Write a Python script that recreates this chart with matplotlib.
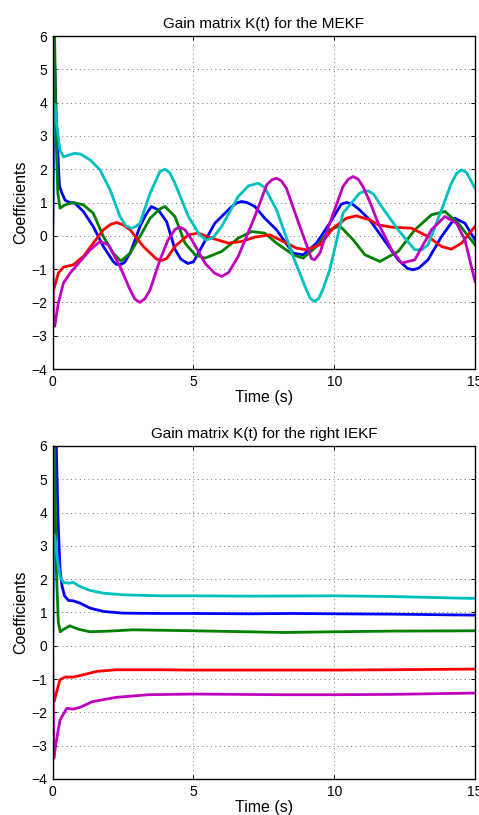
import matplotlib
matplotlib.use('Agg')
import matplotlib.pyplot as plt

plt.rcParams['font.family'] = ['Liberation Sans', 'DejaVu Sans']

# --- MEKF gains (top panel) ---
t_blue_mekf = [0, 0.07, 0.14, 0.24, 0.32, 0.44, 0.6, 0.79, 1.09, 1.44, 1.8, 2.15, 2.25, 2.39, 2.55,
               2.75, 3.1, 3.3, 3.5, 3.75, 4.05, 4.34, 4.55, 4.8, 5.0, 5.17, 5.76, 6.36, 6.55, 6.71,
               6.9, 7.18, 7.53, 7.95, 8.54, 8.9, 9.37, 9.84, 10.25, 10.43, 10.65, 10.9, 11.26,
               11.68, 12.27, 12.6, 12.8, 13.0, 13.33, 13.81, 14.28, 14.64, 15.0]
k_blue_mekf = [0, 5.16, 3.2, 1.5, 1.3, 1.07, 1.0, 0.98, 0.73, 0.28, -0.32, -0.77, -0.85, -0.87, -0.8,
               -0.52, 0.28, 0.62, 0.88, 0.78, 0.42, -0.4, -0.7, -0.83, -0.78, -0.52, 0.38, 0.88, 0.99, 1.03,
               1.0, 0.88, 0.53, 0.18, -0.52, -0.57, -0.22, 0.38, 0.95, 1.0, 0.95, 0.78, 0.48,
               -0.02, -0.72, -0.98, -1.02, -0.97, -0.72, -0.02, 0.53, 0.38, -0.12]

t_green_mekf = [0, 0.06, 0.12, 0.18, 0.26, 0.44, 0.73, 1.09, 1.44, 1.8, 2.15, 2.42, 2.75, 3.1,
                3.46, 3.81, 3.99, 4.34, 4.7, 5.06, 5.41, 6.0, 6.59, 7.07, 7.53, 7.95, 8.54, 8.9,
                9.37, 9.84, 10.2, 10.67, 11.09, 11.62, 12.27, 12.86, 13.45, 13.93, 14.4, 15.0]
k_green_mekf = [8, 6.5, 3.0, 1.3, 0.83, 0.93, 1.0, 0.93, 0.68, -0.02, -0.52, -0.76, -0.52, -0.02,
                0.53, 0.81, 0.88, 0.58, -0.22, -0.57, -0.67, -0.47, -0.07, 0.13, 0.08, -0.22, -0.57, -0.67,
                -0.32, 0.18, 0.3, -0.12, -0.57, -0.77, -0.47, 0.18, 0.63, 0.73, 0.38, -0.27]

t_red_mekf = [0, 0.2, 0.38, 0.73, 1.09, 1.44, 1.8, 2.05, 2.27, 2.5, 2.75, 3.22, 3.69, 3.87, 4.05,
              4.34, 4.82, 5.17, 5.65, 6.24, 6.71, 7.18, 7.71, 8.19, 8.66, 9.02, 9.49, 9.96, 10.43,
              10.78, 11.26, 11.56, 12.04, 12.74, 13.33, 13.81, 14.16, 14.52, 15.0]
k_red_mekf = [-1.72, -1.12, -0.94, -0.87, -0.62, -0.22, 0.18, 0.34, 0.4, 0.33, 0.18, -0.32, -0.7, -0.74, -0.68,
              -0.32, 0.03, 0.08, -0.07, -0.22, -0.17, -0.04, 0.03, -0.17, -0.37, -0.42, -0.27, 0.23, 0.53,
              0.6, 0.48, 0.33, 0.26, 0.23, -0.02, -0.32, -0.4, -0.22, 0.28]

t_cyan_mekf = [0, 0.03, 0.08, 0.15, 0.25, 0.38, 0.55, 0.79, 1.0, 1.33, 1.68, 2.04, 2.39, 2.6, 2.8,
               2.95, 3.1, 3.46, 3.81, 3.99, 4.15, 4.34, 4.82, 5.2, 5.45, 5.7, 6.0, 6.59, 6.95, 7.3,
               7.53, 7.95, 8.54, 9.0, 9.15, 9.31, 9.45, 9.6, 9.84, 10.31, 10.9, 11.05, 11.2, 11.4,
               11.68, 12.27, 12.86, 13.1, 13.33, 13.81, 14.16, 14.35, 14.52, 14.7, 15.0]
k_cyan_mekf = [0, 3.9, 3.95, 3.3, 2.6, 2.37, 2.42, 2.48, 2.45, 2.28, 1.98, 1.38, 0.58, 0.3, 0.23,
               0.28, 0.38, 1.28, 1.93, 2.0, 1.9, 1.58, 0.58, 0.05, -0.13, -0.05, 0.28, 1.18, 1.5, 1.58,
               1.45, 0.78, -0.62, -1.6, -1.88, -1.97, -1.88, -1.6, -1.02, 0.68, 1.28, 1.33, 1.35, 1.25,
               0.88, 0.18, -0.42, -0.42, -0.27, 0.78, 1.58, 1.88, 1.98, 1.9, 1.43]

t_mag_mekf = [0, 0.03, 0.07, 0.2, 0.38, 0.62, 0.97, 1.33, 1.68, 1.98, 2.39, 2.75, 2.92, 3.1, 3.28,
              3.46, 3.81, 4.1, 4.35, 4.52, 4.7, 4.94, 5.41, 5.75, 6.0, 6.25, 6.59, 7.18, 7.6, 7.78,
              7.95, 8.12, 8.3, 8.78, 9.19, 9.3, 9.49, 9.84, 10.31, 10.5, 10.67, 10.85, 11.02, 11.26,
              11.56, 12.04, 12.39, 12.86, 13.45, 13.93, 14.34, 14.64, 15.0]
k_mag_mekf = [0, -2.6, -2.72, -2.02, -1.42, -1.12, -0.77, -0.42, -0.17, -0.27, -0.92, -1.62, -1.9, -2.0, -1.88,
              -1.62, -0.72, -0.12, 0.2, 0.26, 0.18, -0.12, -0.82, -1.12, -1.22, -1.1, -0.62, 0.58, 1.53, 1.68,
              1.73, 1.65, 1.43, 0.28, -0.68, -0.72, -0.52, 0.38, 1.48, 1.7, 1.78, 1.7, 1.48, 1.03,
              0.38, -0.42, -0.82, -0.72, 0.18, 0.58, 0.38, -0.12, -1.37]

# --- right IEKF gains (bottom panel) ---
t_blue_iekf = [0, 0.07, 0.12, 0.19, 0.26, 0.33, 0.42, 0.56, 0.73, 0.97, 1.33, 1.8, 2.51, 3.81,
               5, 7, 8.5, 10, 12, 15]
k_blue_iekf = [0, 8, 6.3, 3.8, 2.3, 1.8, 1.5, 1.36, 1.35, 1.28, 1.13, 1.03, 0.98, 0.97,
               0.97, 0.96, 0.97, 0.96, 0.95, 0.92]

t_green_iekf = [0, 0.06, 0.12, 0.2, 0.27, 0.4, 0.61, 0.9, 1.32, 2.0, 2.86, 5, 8.2, 10, 12, 15]
k_green_iekf = [8, 6.5, 2.5, 0.7, 0.42, 0.5, 0.6, 0.5, 0.42, 0.44, 0.48, 0.45, 0.4, 0.42, 0.44, 0.45]

t_red_iekf = [0, 0.05, 0.15, 0.26, 0.44, 0.73, 1.09, 1.56, 2.27, 3.81, 5, 8, 10, 12, 15]
k_red_iekf = [-1.4, -1.68, -1.35, -1.02, -0.94, -0.94, -0.87, -0.77, -0.72, -0.72, -0.73, -0.73,
              -0.73, -0.72, -0.7]

t_cyan_iekf = [0, 0.03, 0.07, 0.15, 0.26, 0.38, 0.56, 0.73, 0.97, 1.33, 1.8, 2.51, 3.81, 5, 7,
               10, 12, 15]
k_cyan_iekf = [0, 3.35, 3.3, 2.7, 2.08, 1.9, 1.88, 1.9, 1.78, 1.66, 1.58, 1.53, 1.5, 1.5, 1.49,
               1.5, 1.48, 1.42]

t_mag_iekf = [0, 0.04, 0.1, 0.26, 0.5, 0.73, 0.97, 1.4, 2.24, 3.4, 5, 8.2, 10, 12, 15]
k_mag_iekf = [0, -3.38, -3.0, -2.23, -1.88, -1.9, -1.85, -1.68, -1.55, -1.47, -1.45, -1.47, -1.47,
              -1.46, -1.42]

titles = ['Gain matrix K(t) for the MEKF', 'Gain matrix K(t) for the right IEKF']

panels = [
    [(t_blue_mekf, k_blue_mekf), (t_green_mekf, k_green_mekf), (t_red_mekf, k_red_mekf),
     (t_cyan_mekf, k_cyan_mekf), (t_mag_mekf, k_mag_mekf)],
    [(t_blue_iekf, k_blue_iekf), (t_green_iekf, k_green_iekf), (t_red_iekf, k_red_iekf),
     (t_cyan_iekf, k_cyan_iekf), (t_mag_iekf, k_mag_iekf)],
]
colors = [(0, 0, 1), (0, 0.5, 0), (1, 0, 0), (0, 0.75, 0.75), (0.75, 0, 0.75)]

fig = plt.figure(figsize=(4.79, 8.15), dpi=100)
axes_pos = [[0.110, 0.5472, 0.8817, 0.4086], [0.110, 0.0442, 0.8817, 0.4086]]

for i, pos in enumerate(axes_pos):
    ax = fig.add_axes(pos)
    for j, (t, k) in enumerate(panels[i]):
        ax.plot(t, k, color=colors[j], lw=2.0, solid_joinstyle='round')
    ax.set_xlim(0, 15)
    ax.set_ylim(-4, 6)
    ax.set_xticks([0, 5, 10, 15])
    ax.set_yticks(range(-4, 7))
    ax.grid(True, color='0.45', linestyle=(0, (1, 3.5)), lw=0.7)
    ax.tick_params(direction='in', length=3, width=0.7, top=True, right=True,
                   labelsize=10, pad=4)
    for sp in ax.spines.values():
        sp.set_linewidth(1.0)
    ax.set_title(titles[i], fontsize=11, pad=6)
    ax.set_xlabel('Time (s)', fontsize=11.5, labelpad=1)
    ax.set_ylabel('Coefficients', fontsize=11.5, labelpad=2)

fig.savefig('out.png', dpi=100)
